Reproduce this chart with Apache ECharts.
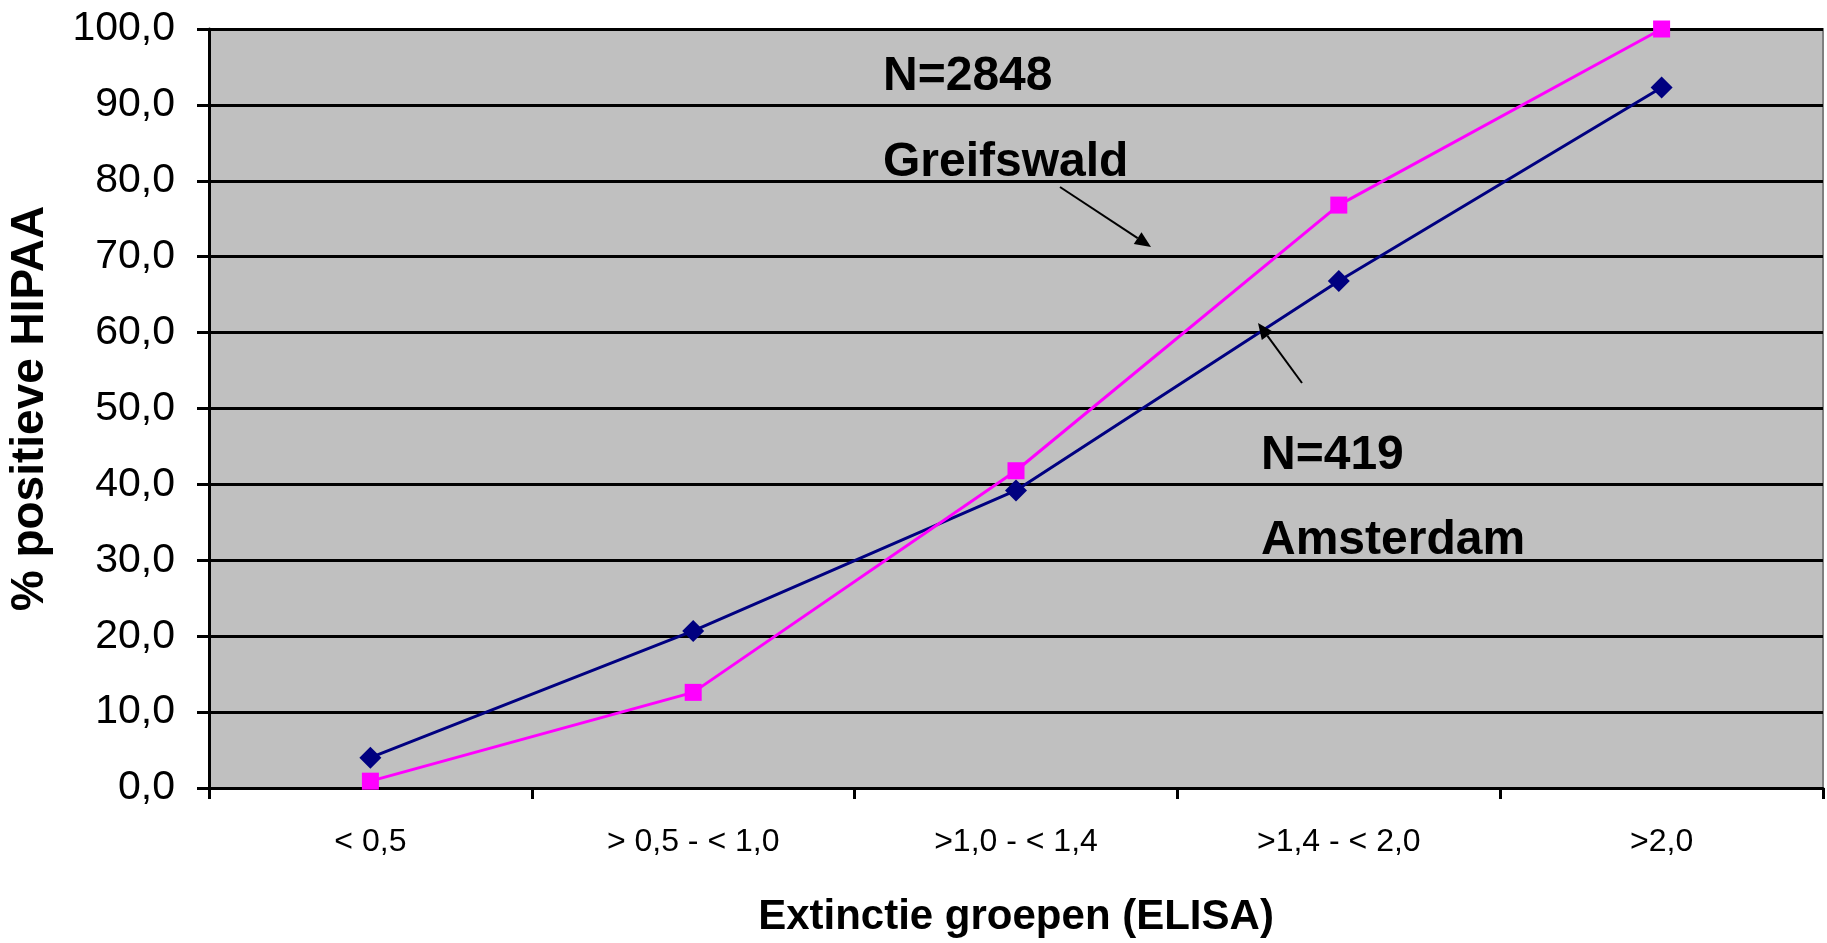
<!DOCTYPE html>
<html>
<head>
<meta charset="utf-8">
<script src="https://cdn.jsdelivr.net/npm/echarts@6/dist/echarts.min.js"></script>
<style>
html,body{margin:0;padding:0;background:#fff;}
#chart{width:1827px;height:943px;}
</style>
</head>
<body>
<div id="chart"></div>
<script>
const categories = ['< 0,5', '> 0,5 - < 1,0', '>1,0 - < 1,4', '>1,4 - < 2,0', '>2,0'];
const amsterdamValues = [4.0, 20.7, 39.2, 66.8, 92.3];
const greifswaldValues = [0.9, 12.6, 41.8, 76.8, 100.0];
const yTicks = [0, 10, 20, 30, 40, 50, 60, 70, 80, 90, 100];
const annotations = ['N=2848', 'Greifswald', 'N=419', 'Amsterdam'];

const FONT = '"Liberation Sans", Arial, sans-serif';
const chart = echarts.init(document.getElementById('chart'));

function arrow(x1, y1, x2, y2) {
  const ang = Math.atan2(y2 - y1, x2 - x1);
  const L = 16, W = 7;
  const bx = x2 - L * Math.cos(ang), by = y2 - L * Math.sin(ang);
  const px = -Math.sin(ang) * W, py = Math.cos(ang) * W;
  return [
    {type: 'line', shape: {x1: x1, y1: y1, x2: bx, y2: by}, style: {stroke: '#000', lineWidth: 2}, z: 100},
    {type: 'polygon', shape: {points: [[x2, y2], [bx + px, by + py], [bx - px, by - py]]}, style: {fill: '#000'}, z: 100}
  ];
}

const annoStyle = (t) => ({text: t, fontSize: 48, fontWeight: 'bold', fontFamily: FONT, fill: '#000', verticalAlign: 'middle', align: 'left'});

chart.setOption({
  animation: false,
  backgroundColor: '#fff',
  grid: {left: 209, right: 4, top: 29, bottom: 155, outerBoundsMode: 'none', containLabel: false,
    show: true, backgroundColor: '#C0C0C0', borderColor: '#808080', borderWidth: 2},
  xAxis: {
    type: 'category',
    data: categories,
    boundaryGap: true,
    axisLine: {show: true, lineStyle: {color: '#000', width: 3}},
    axisTick: {show: true, inside: false, length: 11, alignWithLabel: false, lineStyle: {color: '#000', width: 3}},
    axisLabel: {margin: 38, fontSize: 32, color: '#000', fontFamily: FONT, interval: 0},
    splitLine: {show: false},
    name: 'Extinctie groepen (ELISA)',
    nameLocation: 'middle',
    nameGap: 108,
    nameTextStyle: {fontSize: 42, fontWeight: 'bold', color: '#000', fontFamily: FONT}
  },
  yAxis: {
    type: 'value',
    min: 0, max: 100, interval: 10,
    axisLine: {show: true, lineStyle: {color: '#000', width: 3}},
    axisTick: {show: true, inside: false, length: 12, lineStyle: {color: '#000', width: 3}},
    axisLabel: {margin: 34, fontSize: 41, color: '#000', fontFamily: FONT,
      formatter: (v) => yTicks.includes(v) ? v.toFixed(1).replace('.', ',') : ''},
    splitLine: {show: true, lineStyle: {color: '#000', width: 3}},
    name: '% positieve HIPAA',
    nameLocation: 'middle',
    nameGap: 156,
    nameTextStyle: {fontSize: 46, fontWeight: 'bold', color: '#000', fontFamily: FONT}
  },
  series: [
    {
      name: 'Amsterdam', type: 'line', data: amsterdamValues,
      symbol: 'diamond', symbolSize: 22, clip: false,
      lineStyle: {color: '#000080', width: 3},
      itemStyle: {color: '#000080'}
    },
    {
      name: 'Greifswald', type: 'line', data: greifswaldValues,
      symbol: 'rect', symbolSize: 17, clip: false,
      lineStyle: {color: '#FF00FF', width: 3},
      itemStyle: {color: '#FF00FF'}
    }
  ],
  graphic: [
    {type: 'text', x: 883, y: 77, style: annoStyle(annotations[0]), z: 100},
    {type: 'text', x: 883, y: 163, style: annoStyle(annotations[1]), z: 100},
    {type: 'text', x: 1261, y: 456, style: annoStyle(annotations[2]), z: 100},
    {type: 'text', x: 1261, y: 541, style: annoStyle(annotations[3]), z: 100},
    ...arrow(1060, 187, 1151, 247),
    ...arrow(1302, 383, 1258, 323)
  ]
});
</script>
</body>
</html>
